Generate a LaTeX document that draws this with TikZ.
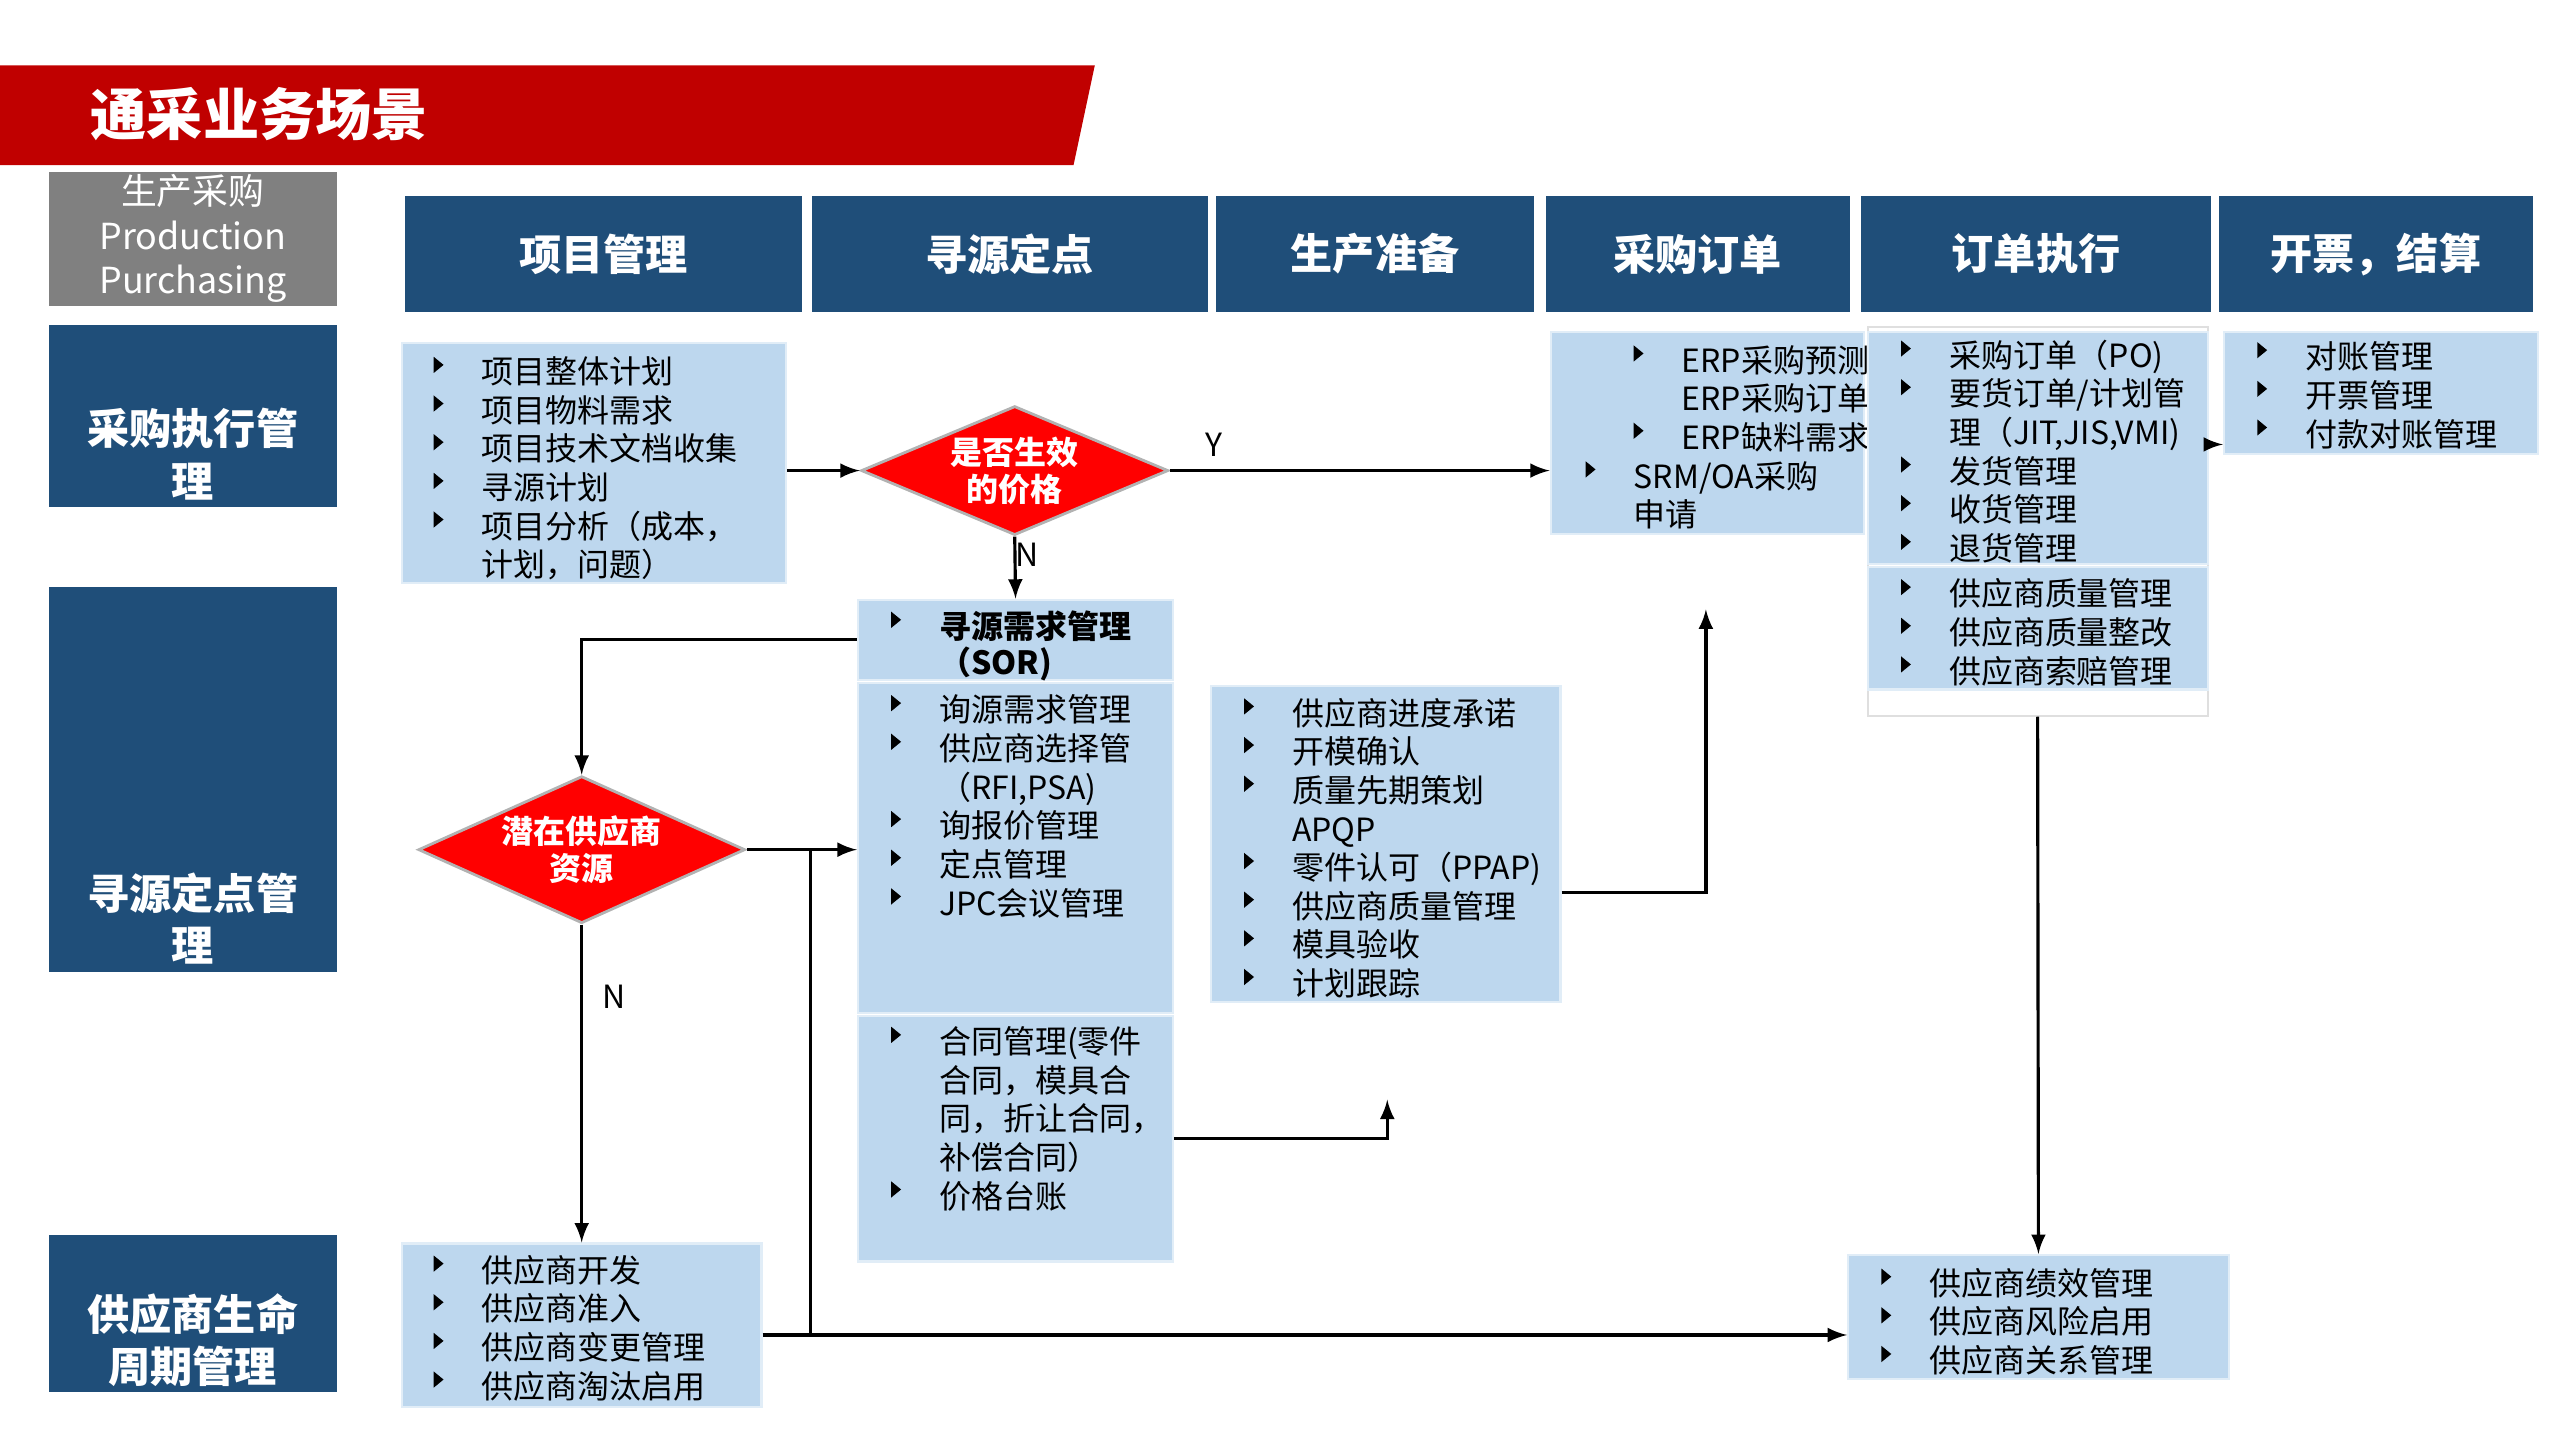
\documentclass[tikz,border=0pt]{standalone}
\usepackage{fontspec}
\setmainfont{Noto Sans CJK SC}
\usetikzlibrary{arrows, positioning, fit, shapes.geometric}
\definecolor{banner}{HTML}{C00000}
\definecolor{hblue}{HTML}{1F4E79}
\definecolor{lblue}{HTML}{BDD7EE}
\definecolor{gbox}{HTML}{808080}
\newcommand{\tri}{\tikz[x=1pt, y=1pt, baseline=0pt]\fill[black] (0,3) -- (2.8,5.3) -- (0,7.6) -- cycle;}
\newcommand{\itm}{\rule{0pt}{8.5pt}\makebox[0.48cm][l]{\tri}}
\newcommand{\nob}{\rule{0pt}{8.5pt}\hspace*{0.48cm}}

\begin{document}
\begin{tikzpicture}
  [x=0.01634cm, y=-0.01634cm, >=latex,
   head/.style={fill=hblue, inner sep=0pt},
   headtxt/.style={inner sep=0pt, text=white, font=\fontsize{12}{14}\selectfont\bfseries},
   side/.style={text=white, align=center, inner sep=0pt, font=\fontsize{12}{14.9}\selectfont\bfseries},
   pane/.style={fill=lblue, draw=lblue!45!white, line width=0.6pt, inner sep=0pt},
   list/.style={anchor=north west, align=left, inner sep=0pt, font=\fontsize{9.1}{11}\selectfont},
   gate/.style={diamond, fill=red, draw=gray!60, line width=0.8pt, inner sep=0pt, text=white, align=center, font=\fontsize{9.1}{10.6}\selectfont\bfseries},
   tag/.style={inner sep=0pt, font=\fontsize{9.1}{11}\selectfont},
   flow/.style={->, line width=0.9pt}]
  \useasboundingbox (0,0) rectangle (1566.7,881.3);

  % title bar
  \fill[banner] (0,40) -- (670,40) -- (657,101) -- (0,101) -- cycle;
  \node (title) [anchor=west, inner sep=0pt, text=white, font=\fontsize{16}{18}\selectfont\bfseries] at (55,70) {通采业务场景};

  % column heads
  \node (pp) [fit={(30,105) (206,187)}, fill=gbox, inner sep=0pt] {};
  \node (labpp) [side, font=\fontsize{10.2}{12.6}\selectfont] at (pp.center) {生产采购\\Production\\Purchasing};
  \foreach \n/\a/\b/\t in {h1/248/491/项目管理, h2/497/739/寻源定点, h3/744/939/生产准备,
                           h4/946/1132/采购订单, h5/1139/1353/订单执行, h6/1358/1550/开票，结算}{
    \node (\n) [head, fit={(\a,120) (\b,191)}] {};
    \node (lab\n) [headtxt] at (\n.center) {\t};
  }

  % row heads
  \foreach \n/\t/\b/\c/\s in {exe/199/310/278/{采购执行管\\理}, src/359/595/562/{寻源定点管\\理},
                              slm/756/852/820/{供应商生命\\周期管理}}{
    \node (\n) [fit={(30,\t) (206,\b)}, fill=hblue, inner sep=0pt] {};
    \node (lab\n) [side] at (118,\c) {\s};
  }

  % lists
  \node (prj) [pane, fit={(246,210) (481,357)}] {};
  \node (prjtxt) [list] at (265,216) {\itm 项目整体计划\\ \itm 项目物料需求\\ \itm 项目技术文档收集\\ \itm 寻源计划\\ \itm 项目分析（成本，\\ \nob 计划，问题）};
  \node (sor) [pane, fit={(525,367) (718,416)}] {};
  \node (sortxt) [list, font=\fontsize{9.1}{10.4}\selectfont\bfseries] at (545,372) {\itm 寻源需求管理\\ \nob （SOR)};
  \node (sel) [pane, fit={(525,418) (718,620)}] {};
  \node (seltxt) [list] at (545,423) {\itm 询源需求管理\\ \itm 供应商选择管\\ \nob （RFI,PSA)\\ \itm 询报价管理\\ \itm 定点管理\\ \itm JPC会议管理};
  \node (con) [pane, fit={(525,622) (718,772)}] {};
  \node (contxt) [list] at (545,626) {\itm 合同管理(零件\\ \nob 合同，模具合\\ \nob 同，折让合同，\\ \nob 补偿合同）\\ \itm 价格台账};
  \node (prep) [pane, fit={(741,420) (955,613)}] {};
  \node (preptxt) [list] at (761,425) {\itm 供应商进度承诺\\ \itm 开模确认\\ \itm 质量先期策划\\ \nob APQP\\ \itm 零件认可（PPAP)\\ \itm 供应商质量管理\\ \itm 模具验收\\ \itm 计划跟踪};
  \node (erp) [pane, fit={(949,203) (1141,327)}] {};
  \node (erptxt) [list] at (970,209) {\hspace*{0.48cm}\itm ERP采购预测\\ \hspace*{0.48cm}\nob ERP采购订单\\ \hspace*{0.48cm}\itm ERP缺料需求\\ \itm SRM/OA采购\\ \nob 申请};
  \node (ord) [fit={(1143,200) (1351,438)}, fill=white, draw=gray!25, line width=0.6pt, inner sep=0pt] {};
  \node (ord1) [pane, fit={(1143,203) (1351,345)}] {};
  \node (ord2) [pane, fit={(1143,347) (1351,422)}] {};
  \node (ordtxt) [list] at (1163,206) {\itm 采购订单（PO)\\ \itm 要货订单/计划管\\ \nob 理（JIT,JIS,VMI)\\ \itm 发货管理\\ \itm 收货管理\\ \itm 退货管理};
  \node (qtxt) [list] at (1163,352) {\itm 供应商质量管理\\ \itm 供应商质量整改\\ \itm 供应商索赔管理};
  \node (inv) [pane, fit={(1361,203) (1553,278)}] {};
  \node (invtxt) [list] at (1381,207) {\itm 对账管理\\ \itm 开票管理\\ \itm 付款对账管理};
  \node (sup) [pane, fit={(246,761) (466,861)}] {};
  \node (suptxt) [list] at (265,766) {\itm 供应商开发\\ \itm 供应商准入\\ \itm 供应商变更管理\\ \itm 供应商淘汰启用};
  \node (kpi) [pane, fit={(1131,768) (1364,844)}] {};
  \node (kpitxt) [list] at (1151,774) {\itm 供应商绩效管理\\ \itm 供应商风险启用\\ \itm 供应商关系管理};

  % decisions
  \node (price) [gate, aspect=2.38, minimum width=3.072cm, minimum height=1.291cm] at (621,288) {是否生效\\的价格};
  \node (pool) [gate, aspect=2.22, minimum width=3.268cm, minimum height=1.471cm] at (356,520) {潜在供应商\\资源};

  % flows
  \draw[flow] (prj.east |- price.west) -- (price.west);
  \draw[flow] (price.east) -- (erp.west |- price.east);
  \node (ylab) [tag, above right=0.13cm and 0.35cm of price.east] {Y};
  \draw[flow] (price.south) -- (sor.north);
  \node (nlab1) [tag, below right=0.06cm and 0.0cm of price.south] {N};
  \draw[flow] (sor.west) -| (pool.north);
  \draw[flow] (pool.east) -- (sel.west |- pool.east);
  \draw[flow] (pool.south) -- (sup.north);
  \node (nlab2) [tag, below right=0.6cm and 0.2cm of pool.south] {N};
  \coordinate (tee) at (496,520);
  \coordinate (low) at (496,817);
  \draw[line width=0.9pt] (tee) -- (low);
  \draw[flow] (sup.east |- low) -- (kpi.west |- low);
  \draw[flow] (ord.south) -- (kpi.north);
  \coordinate (oi) at (1351,272);
  \draw[flow] (ord.east |- oi) -- (inv.west |- oi);
  \coordinate (pe) at (1044,546);
  \coordinate (pt) at (1044,373);
  \draw[flow] (prep.east |- pe) -- (pe) -- (pt);
  \coordinate (ce) at (849,673);
  \draw[flow] (con.east) -| (ce);
\end{tikzpicture}
\end{document}
